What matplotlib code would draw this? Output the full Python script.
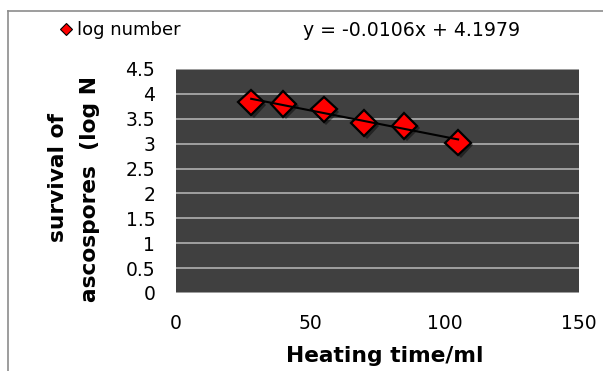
import matplotlib
matplotlib.use("Agg")
import matplotlib.pyplot as plt
import matplotlib.patheffects as pe
from matplotlib.lines import Line2D
import numpy as np

# Heating time vs. surviving ascospores (log N)
heating_time = [28, 40, 55, 70, 85, 105]
log_number = [3.83, 3.80, 3.69, 3.41, 3.36, 3.02]

# Linear trendline coefficients
slope = -0.0106
intercept = 4.1979

x_ticks = [0, 50, 100, 150]
y_ticks = [0, 0.5, 1, 1.5, 2, 2.5, 3, 3.5, 4, 4.5]

plt.rcParams["font.family"] = ["DejaVu Sans"]

W, H = 603, 371
fig = plt.figure(figsize=(W / 100, H / 100), dpi=100)
fig.patch.set_facecolor("white")

ax = fig.add_axes([176 / W, 1 - 293 / H, 403 / W, 224 / H])
ax.set_facecolor("#404040")
ax.set_xlim(0, 150)
ax.set_ylim(0, 4.5)
ax.set_xticks(x_ticks)
ax.set_xticklabels([f"{v:g}" for v in x_ticks])
ax.set_yticks(y_ticks)
ax.set_yticklabels([f"{v:g}" for v in y_ticks])
ax.tick_params(length=0, labelsize=13.5, colors="black")
ax.tick_params(axis="y", pad=15)
ax.tick_params(axis="x", pad=15)
for s in ax.spines.values():
    s.set_visible(False)
ax.set_axisbelow(True)
ax.grid(axis="y", color="#a8a8a8", linewidth=1.3)
ax.grid(axis="x", visible=False)

# data markers with a soft drop shadow
ax.plot(heating_time, log_number, linestyle="none", marker="D", markersize=13,
        markerfacecolor="#ff0000", markeredgecolor="black", markeredgewidth=1.6,
        zorder=4,
        path_effects=[pe.SimplePatchShadow(offset=(1.8, -1.8), shadow_rgbFace="black", alpha=0.45),
                      pe.Normal()])

# trendline across the data range, drawn over the markers
tx = np.array([min(heating_time), max(heating_time)])
ax.plot(tx, slope * tx + intercept, color="black", linewidth=1.5, zorder=5)

# axis titles
fig.text(384.5 / W, 1 - 356 / H, "Heating time/ml", fontsize=15.7,
         fontweight="bold", ha="center", va="center")
fig.text(58.5 / W, 1 - 177.5 / H, "survival of", rotation=90, fontsize=15.7,
         fontweight="bold", ha="center", va="center")
fig.text(89.5 / W, 1 - 189.5 / H, "ascospores  (log N", rotation=90, fontsize=15.7,
         fontweight="bold", ha="center", va="center")

# legend and equation
handle = Line2D([], [], linestyle="none", marker="D", markersize=6,
                markerfacecolor="#ff0000", markeredgecolor="black", markeredgewidth=0.8)
fig.legend([handle], ["log number"], loc="center left",
           bbox_to_anchor=(55 / W, 1 - 30 / H), frameon=False, fontsize=13,
           handletextpad=0.0, handlelength=1.2, borderpad=0, borderaxespad=0)
fig.text(520 / W, 1 - 30 / H, f"y = {slope:.4f}x + {intercept:.4f}", fontsize=13.6,
         ha="right", va="center")

# outer chart border
fig.add_artist(Line2D([7.5 / W, 1], [1 - 11 / H, 1 - 11 / H], transform=fig.transFigure,
                      color="#8c8c8c", linewidth=1.2))
fig.add_artist(Line2D([7.5 / W, 7.5 / W], [0, 1 - 11 / H], transform=fig.transFigure,
                      color="#8c8c8c", linewidth=1.2))

fig.savefig("out.png", dpi=100)
